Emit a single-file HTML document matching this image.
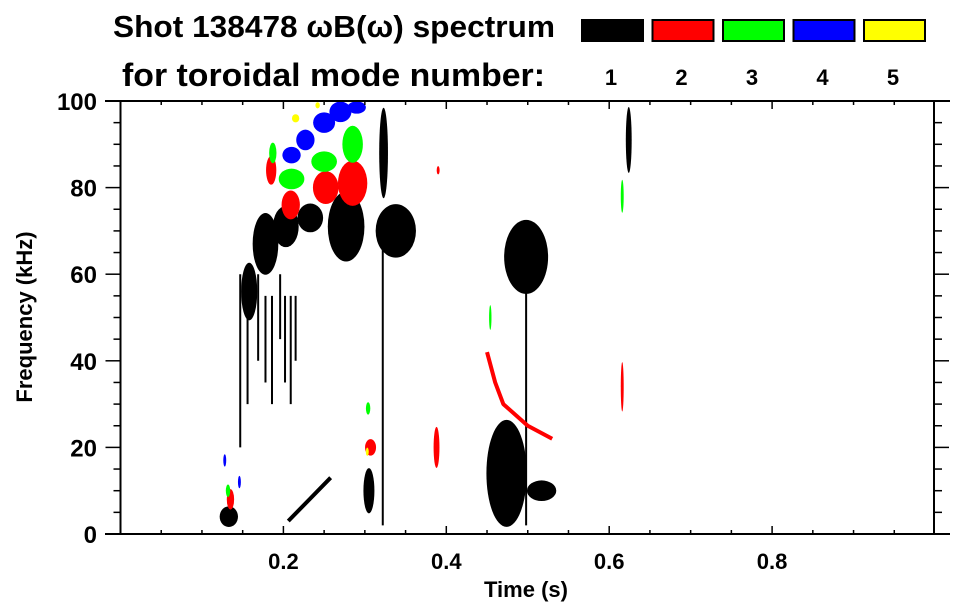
<!DOCTYPE html>
<html><head><meta charset="utf-8">
<style>
html,body{margin:0;padding:0;background:#fff;}
svg{display:block;font-family:"Liberation Sans",Arial,sans-serif;font-weight:bold;}
</style></head>
<body>
<svg id="chart" width="963" height="615" viewBox="0 0 963 615">
  <text x="113" y="37" font-size="31" textLength="442" lengthAdjust="spacingAndGlyphs">Shot 138478 ωB(ω) spectrum</text>
  <text x="122" y="86" font-size="32" textLength="423" lengthAdjust="spacingAndGlyphs">for toroidal mode number:</text>
  <g id="legend"></g>
  <g id="marks"></g>
  <g id="axes"></g>
  <text x="526" y="597" font-size="22" text-anchor="middle">Time (s)</text>
  <text transform="translate(32,317) rotate(-90)" font-size="22" text-anchor="middle">Frequency (kHz)</text>
</svg>
<script>
// ---- data ----
const modeNumbers = [1, 2, 3, 4, 5];
const modeColors = ["#000000", "#ff0000", "#00ff00", "#0000ff", "#ffff00"];
const xTicks = [0.2, 0.4, 0.6, 0.8];
const yTicks = [0, 20, 40, 60, 80, 100];
// blobs: time (s), freq (kHz), time width, freq height, mode
const blobT = [0.158,0.178,0.203,0.233,0.277,0.338,0.323,0.498,0.474,0.517,0.305,0.133,0.624,
  0.185,0.209,0.252,0.285,0.388,0.307,0.616,0.135,0.390,
  0.187,0.210,0.250,0.285,0.616,0.132,0.454,0.304,
  0.210,0.227,0.250,0.270,0.290,0.128,0.146,
  0.215,0.242,0.303];
const blobF = [56,67,71,73,71,70,88,64,14,10,10,4,91,
  84,76,80,81,20,20,34,8,84,
  88,82,86,90,78,10,50,29,
  87.5,91,95,97.5,98.5,17,12,
  96,99,19];
const blobDT = [0.022,0.035,0.035,0.035,0.05,0.055,0.012,0.06,0.055,0.04,0.015,0.025,0.008,
  0.014,0.025,0.035,0.04,0.008,0.015,0.004,0.01,0.004,
  0.01,0.035,0.035,0.028,0.004,0.006,0.003,0.006,
  0.025,0.025,0.03,0.03,0.025,0.004,0.004,
  0.01,0.006,0.004];
const blobDF = [14,15,10,7,17,13,22,18,26,5,11,5,16,
  7,7,8,11,10,4,12,5,2,
  5,5,5,9,8,3,6,3,
  4,5,5,5,3,3,3,
  2,1.5,2];
const blobMode = [1,1,1,1,1,1,1,1,1,1,1,1,1,
  2,2,2,2,2,2,2,2,2,
  3,3,3,3,3,3,3,3,
  4,4,4,4,4,4,4,
  5,5,5];
// vertical streaks (mode 1): time, low freq, high freq
const streakT = [0.147,0.156,0.169,0.178,0.186,0.196,0.202,0.209,0.215,0.498,0.322];
const streakF0 = [20,30,40,35,30,45,35,30,40,2,2];
const streakF1 = [60,60,60,55,55,60,55,55,55,72,70];
// line features: polyline points per feature
const lineT = [[0.206,0.232,0.258],[0.45,0.46,0.47,0.50,0.53]];
const lineF = [[3,8,13],[42,35,30,25,22]];
const lineMode = [1,2];

// ---- scales ----
const X0 = 120.5, X1 = 935, Y0 = 534, Y1 = 101;
const xs = t => X0 + t * (X1 - X0);
const ys = f => Y0 - f / 100 * (Y0 - Y1);
const NS = "http://www.w3.org/2000/svg";
function mk(tag, attrs, parent) {
  const e = document.createElementNS(NS, tag);
  for (const k in attrs) e.setAttribute(k, attrs[k]);
  parent.appendChild(e);
  return e;
}
const marks = document.getElementById("marks");
const axes = document.getElementById("axes");
const legend = document.getElementById("legend");

// legend
modeNumbers.forEach((m, i) => {
  const r = mk("rect", {x: 582 + i * 70.5, y: 20, width: 61, height: 21, fill: modeColors[i], stroke: "#000", "stroke-width": 2}, legend);
  
  
  const t = mk("text", {x: 611 + i * 70.5, y: 85, "font-size": 22, "text-anchor": "middle"}, legend);
  t.textContent = String(m);
  
  
});

// streaks
streakT.forEach((t, i) => {
  const l = mk("line", {x1: xs(t), x2: xs(t), y1: ys(streakF0[i]), y2: ys(streakF1[i]), stroke: "#000", "stroke-width": 2}, marks);
  
  
});
// blobs
blobT.forEach((t, i) => {
  const cx = xs(t), cy = ys(blobF[i]);
  const rx = Math.max(1.2, 0.9 * (xs(blobDT[i]) - xs(0)) / 2);
  const ry = Math.max(1.5, 0.95 * (ys(0) - ys(blobDF[i])) / 2);
  const e = mk("ellipse", {cx: cx, cy: cy, rx: rx, ry: ry, fill: modeColors[blobMode[i] - 1]}, marks);
  
  
});
// lines
lineT.forEach((ts, i) => {
  const pts = ts.map((t, j) => xs(t) + "," + ys(lineF[i][j])).join(" ");
  const p = mk("polyline", {points: pts, fill: "none", stroke: modeColors[lineMode[i] - 1], "stroke-width": 4, "stroke-linejoin": "round"}, marks);
  
  
});

// axes frame
const frame = [[105, Y1, 950, Y1], [105, Y0, 950, Y0], [X0, Y1, X0, Y0], [X1 - 1, Y1, X1 - 1, Y0]];
frame.forEach(f => {
  const l = mk("line", {x1: f[0], y1: f[1], x2: f[2], y2: f[3], stroke: "#000", "stroke-width": 2}, axes);
  
  
});
// x ticks (minor every 0.05)
for (let k = 1; k < 20; k++) {
  const t = k * 0.05, x = xs(t), major = k % 4 === 0;
  const len = major ? 8 : 4;
  const a = mk("line", {x1: x, x2: x, y1: Y0, y2: Y0 - len, stroke: "#000", "stroke-width": 1.5}, axes);
  
  
  const b = mk("line", {x1: x, x2: x, y1: Y1, y2: Y1 + len, stroke: "#000", "stroke-width": 1.5}, axes);
  
  
}
xTicks.forEach(t => {
  const tx = mk("text", {x: xs(t), y: 569, "font-size": 22, "text-anchor": "middle"}, axes);
  tx.textContent = t.toFixed(1);
  
  
});
// y ticks (minor every 5)
for (let k = 1; k < 20; k++) {
  const y = ys(k * 5), major = k % 4 === 0;
  const a = mk("line", {x1: X0, x2: X0 - (major ? 15 : 7), y1: y, y2: y, stroke: "#000", "stroke-width": 1.5}, axes);
  
  
  const b = mk("line", {x1: X1 - 1, x2: X1 - 1 + (major ? 15 : 8), y1: y, y2: y, stroke: "#000", "stroke-width": 1.5}, axes);
  
  
}
yTicks.forEach(f => {
  const tx = mk("text", {x: 97, y: ys(f) + 9, "font-size": 24, "text-anchor": "end"}, axes);
  tx.textContent = String(f);
  
  
});
</script>
</body></html>
